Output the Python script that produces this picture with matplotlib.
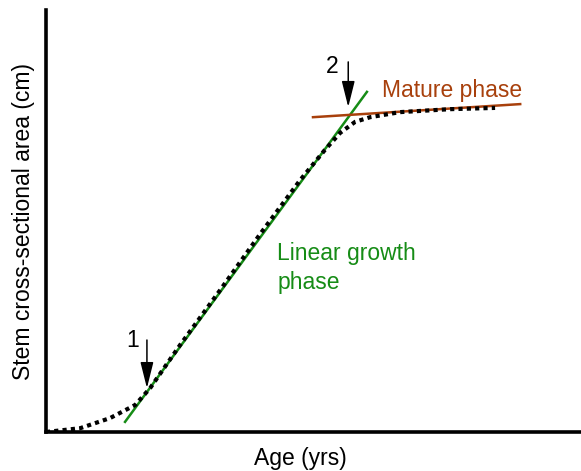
import numpy as np
import matplotlib.pyplot as plt

plt.rcParams['font.family'] = ['Liberation Sans', 'DejaVu Sans']

# growth curve, age and area in arbitrary units 0-100
idade = [0, 6.4, 12.0, 16.7, 19.5, 25.1, 32.6, 40.1, 47.6, 52.2, 55.1, 57.9, 60.7, 66.3, 75.7, 84.1]
area = [0, 0.9, 3.3, 6.4, 10.4, 20.6, 33.6, 46.9, 59.7, 66.8, 70.9, 73.5, 74.6, 75.8, 76.5, 76.8]

# linear growth phase line
linear_x = [14.8, 60.1]
linear_y = [2.4, 80.6]

# mature phase line
madura_x = [50.0, 88.8]
madura_y = [74.6, 77.7]

verde = '#168c16'
marrom = '#a8400c'
fs = 16.5

fig = plt.figure(figsize=(5.81, 4.71), dpi=100)
ax = fig.add_axes([46 / 581, 39 / 471, 534 / 581, 422 / 471])

ax.plot(linear_x, linear_y, color=verde, lw=1.8, zorder=2)
ax.plot(madura_x, madura_y, color=marrom, lw=1.8, zorder=2)
ax.plot(idade, area, color='black', lw=3, linestyle=(0, (1, 1)), zorder=3)

# setas
seta = dict(arrowstyle='-|>,head_length=0.8,head_width=0.2', color='black',
            lw=1.1, mutation_scale=20, shrinkA=0, shrinkB=0)
ax.annotate('', xy=(18.9, 10.4), xytext=(18.9, 21.8), arrowprops=seta)
ax.text(16.3, 21.8, '1', fontsize=fs, ha='center', va='center')
ax.annotate('', xy=(56.6, 77.0), xytext=(56.6, 87.7), arrowprops=seta)
ax.text(53.5, 86.6, '2', fontsize=fs, ha='center', va='center')

ax.text(62.9, 81.0, 'Mature phase', color=marrom, fontsize=fs, va='center')
ax.text(43.3, 38.9, 'Linear growth\nphase', color=verde, fontsize=fs, va='center',
        linespacing=1.3)

ax.set_xlim(0, 100)
ax.set_ylim(0, 100)
ax.set_xticks([])
ax.set_yticks([])
ax.spines['top'].set_visible(False)
ax.spines['right'].set_visible(False)
ax.spines['left'].set_linewidth(2.6)
ax.spines['bottom'].set_linewidth(2.6)
ax.set_xlabel('Age (yrs)', fontsize=fs)
ax.set_ylabel('Stem cross-sectional area (cm)', fontsize=fs)
ax.xaxis.set_label_coords(0.476, -0.036)
ax.yaxis.set_label_coords(-0.02, 0.50)

fig.savefig('out.png', dpi=100)
